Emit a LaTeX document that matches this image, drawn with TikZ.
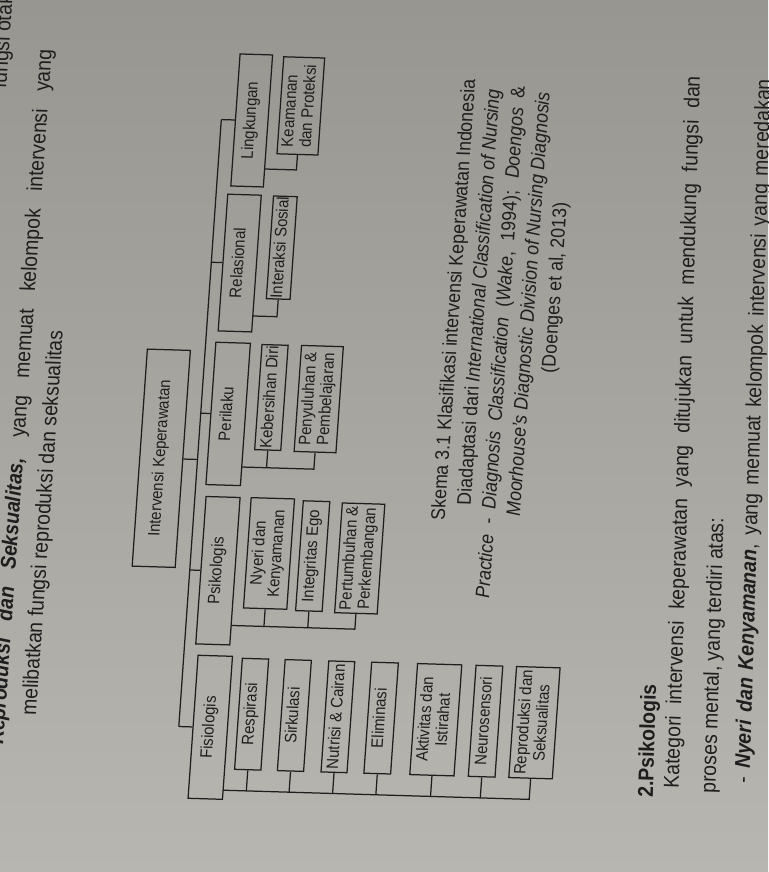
\documentclass[tikz,border=0pt]{standalone}
\usepackage{fontspec}
\setmainfont{Liberation Sans}[FakeStretch=0.9]
\usepackage{graphicx}

\definecolor{ink}{RGB}{30,30,30}
\definecolor{paperTop}{RGB}{152,150,145}
\definecolor{paperMid}{RGB}{176,174,168}
\definecolor{paperBot}{RGB}{184,182,176}

% upright-reading labels (the page is turned a quarter turn)
\newcommand{\boxtext}[1]{\rotatebox{90}{\begin{tabular}{@{}c@{}}#1\end{tabular}}}
\newcommand{\boxtextl}[1]{\rotatebox{90}{\begin{tabular}{@{}l@{}}#1\end{tabular}}}
\newcommand{\uptext}[1]{\rotatebox{90}{#1}}

\tikzset{
  diag/.style={cm={1,-0.03,0.07,1,(31.5pt,8.4pt)}},
  lower/.style={cm={1,-0.03,0.03,1,(13.5pt,21pt)}},
  cat/.style={draw=ink, line width=1.25pt, inner sep=0pt, transform shape, text=ink,
              font=\fontsize{16.6}{18}\selectfont},
  link/.style={draw=ink, line width=1.25pt},
  prose/.style={inner sep=0pt, transform shape, text=ink, font=\fontsize{21.5}{24}\selectfont},
  captionline/.style={inner sep=0pt, transform shape, text=ink, font=\fontsize{19.7}{22}\selectfont},
}

\begin{document}
\begin{tikzpicture}[x=1pt,y=-1pt]
\useasboundingbox (0,0) rectangle (768,872);
\clip (0,0) rectangle (768,872);
\shade[top color=paperTop, middle color=paperMid, bottom color=paperBot] (0,0) rectangle (768,872);

\begin{scope}[diag]
  % ---- preceding paragraph ----
  \node[prose, anchor=north] (t0) at (-24,4) {\uptext{fungsi otak}};
  \node[prose, anchor=south] (t1) at (18.8,752.8) {\uptext{\makebox[695pt][s]{\textbf{\textit{Reproduksi dan Seksualitas,}} yang memuat kelompok intervensi yang}}};
  \node[prose, anchor=south] (t2) at (49.5,722.8) {\uptext{melibatkan fungsi reproduksi dan seksualitas}};

  % ---- root and main categories ----
  \node[cat, minimum width=43pt, minimum height=217pt] (root) at (162.1,461.8) {\boxtext{Intervensi Keperawatan}};
  \node[cat, minimum width=32.5pt, minimum height=132pt] (lk) at (228.75,122) {\boxtext{Lingkungan}};
  \node[cat, minimum width=33.5pt, minimum height=136.7pt] (rl) at (226.75,264.65) {\boxtext{Relasional}};
  \node[cat, minimum width=34.5pt, minimum height=142.3pt] (pr) at (225.75,415.55) {\boxtext{Perilaku}};
  \node[cat, minimum width=34pt, minimum height=147.4pt] (ps) at (226.5,572.3) {\boxtext{Psikologis}};
  \node[cat, minimum width=34.4pt, minimum height=143pt] (fs) at (229.8,728.8) {\boxtext{Fisiologis}};

  % ---- subcategories ----
  \node[cat, minimum width=40.9pt, minimum height=97pt] (km) at (276.75,106) {\boxtextl{Keamanan\\dan Proteksi}};
  \node[cat, minimum width=23.7pt, minimum height=102.7pt] (is) at (267.65,248.05) {\boxtext{Interaksi Sosial}};
  \node[cat, minimum width=26.1pt, minimum height=105.1pt] (kd) at (267.75,397.85) {\boxtext{Kebersihan Diri}};
  \node[cat, minimum width=41.8pt, minimum height=106pt] (pp) at (315.1,398) {\boxtext{Penyuluhan \&\\Pembelajaran}};
  \node[cat, minimum width=43.3pt, minimum height=110.3pt] (nk) at (276.25,553.55) {\boxtext{Nyeri dan\\Kenyamanan}};
  \node[cat, minimum width=26.5pt, minimum height=109.8pt] (ie) at (320.05,554.9) {\boxtext{Integritas Ego}};
  \node[cat, minimum width=42.5pt, minimum height=109.7pt] (pk) at (367.15,555.85) {\boxtext{Pertumbuhan \&\\Perkembangan}};

  \node[cat, minimum width=26.3pt, minimum height=111pt] (rs) at (270.15,714.5) {\boxtext{Respirasi}};
  \node[cat, minimum width=26.2pt, minimum height=111pt] (sk) at (312.9,714.5) {\boxtext{Sirkulasi}};
  \node[cat, minimum width=26pt, minimum height=111pt] (nc) at (356.4,714.5) {\boxtext{Nutrisi \& Cairan}};
  \node[cat, minimum width=26.7pt, minimum height=111pt] (el) at (399.65,714.5) {\boxtext{Eliminasi}};
  \node[cat, minimum width=44.2pt, minimum height=111pt] (ai) at (454.3,714.5) {\boxtext{Aktivitas dan\\Istirahat}};
  \node[cat, minimum width=26.7pt, minimum height=111pt] (ns) at (504.05,714.5) {\boxtext{Neurosensori}};
  \node[cat, minimum width=43.5pt, minimum height=111pt] (rp) at (552.95,714.5) {\boxtext{Reproduksi dan\\Seksualitas}};

  % ---- trunk from the root ----
  \coordinate (j-root) at (198.3,461.8);
  \coordinate (j-lk) at (198.3,122);
  \coordinate (j-rl) at (198.3,264.65);
  \coordinate (j-pr) at (198.3,415.55);
  \coordinate (j-ps) at (198.3,572.3);
  \coordinate (j-fs) at (198.3,728.8);
  \draw[link] (root.east) -- (j-root);
  \draw[link] (j-lk) -- (j-fs);
  \foreach \n in {lk,rl,pr,ps,fs} \draw[link] (j-\n) -- (\n.west);

  % ---- branches to subcategories ----
  \coordinate (lk-o) at (245,170);   \coordinate (lk-1) at (276.75,170);
  \draw[link] (lk-o) -- (lk-1) -- (km.south);

  \coordinate (rl-o) at (243.5,317); \coordinate (rl-1) at (267.65,317);
  \draw[link] (rl-o) -- (rl-1) -- (is.south);

  \coordinate (pr-o) at (243,468);   \coordinate (pr-1) at (267.75,468);
  \coordinate (pr-2) at (315.1,468);
  \draw[link] (pr-o) -- (pr-2) -- (pp.south);
  \draw[link] (pr-1) -- (kd.south);

  \coordinate (ps-o) at (243.5,626.4); \coordinate (ps-1) at (276.25,626.4);
  \coordinate (ps-2) at (320.05,626.4); \coordinate (ps-3) at (367.15,626.4);
  \draw[link] (ps-o) -- (ps-3) -- (pk.south);
  \draw[link] (ps-1) -- (nk.south);
  \draw[link] (ps-2) -- (ie.south);

  \coordinate (fs-o) at (247,791);
  \coordinate (fs-1) at (270.15,791); \coordinate (fs-2) at (312.9,791);
  \coordinate (fs-3) at (356.4,791);  \coordinate (fs-4) at (399.65,791);
  \coordinate (fs-5) at (454.3,791);  \coordinate (fs-6) at (504.05,791);
  \coordinate (fs-7) at (552.95,791);
  \draw[link] (fs-o) -- (fs-7) -- (rp.south);
  \draw[link] (fs-1) -- (rs.south);
  \draw[link] (fs-2) -- (sk.south);
  \draw[link] (fs-3) -- (nc.south);
  \draw[link] (fs-4) -- (el.south);
  \draw[link] (fs-5) -- (ai.south);
  \draw[link] (fs-6) -- (ns.south);

  % ---- caption ----
  \node[captionline] (c1) at (444,295) {\uptext{Skema 3.1 Klasifikasi intervensi Keperawatan Indonesia}};
  \node[captionline] (c2) at (469,291.5) {\uptext{Diadaptasi dari \textit{International Classification of Nursing}}};
  \node[captionline] (c3) at (494,336) {\uptext{\makebox[512pt][s]{\textit{Practice - Diagnosis Classification} (\textit{Wake}, 1994); \textit{Doengos} \&}}};
  \node[captionline] (c4) at (519,297) {\uptext{\textit{Moorhouse's Diagnostic Division of Nursing Diagnosis}}};
  \node[captionline] (c5) at (544,280) {\uptext{(Doenges et al, 2013)}};
\end{scope}

% ---- following section ----
\begin{scope}[lower]
  \node[prose, anchor=south] (tA) at (657.7,798.5) {\uptext{\textbf{2.Psikologis}}};
  \node[prose, anchor=south] (tB) at (683.3,788.8) {\uptext{\makebox[712pt][s]{Kategori intervensi keperawatan yang ditujukan untuk mendukung fungsi dan}}};
  \node[prose, anchor=south] (tC) at (720.1,792.7) {\uptext{proses mental, yang terdiri atas:}};
  \node[prose, anchor=south] (tD) at (753.9,781.7) {\uptext{\makebox[704pt][s]{- \textbf{\textit{Nyeri dan Kenyamanan}}, yang memuat kelompok intervensi yang meredakan}}};
\end{scope}
\end{tikzpicture}
\end{document}
